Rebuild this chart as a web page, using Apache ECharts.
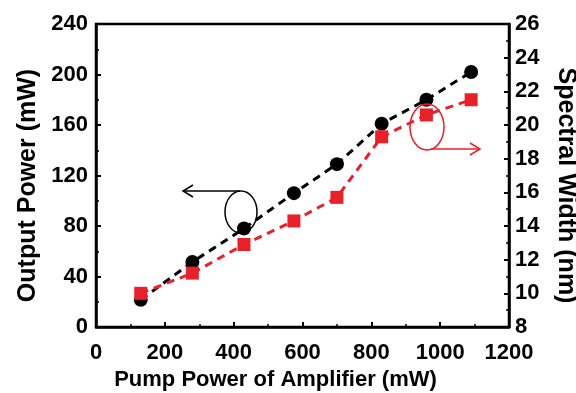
<!DOCTYPE html>
<html>
<head>
<meta charset="utf-8">
<script src="https://cdn.jsdelivr.net/npm/echarts@6/dist/echarts.min.js"></script>
<style>
  html, body { margin: 0; padding: 0; background: #fff; }
  #chart { width: 576px; height: 393px; }
</style>
</head>
<body>
<div id="chart"></div>
<script>
// pump power (mW)
const pumpPower = [130, 280, 430, 575, 700, 830, 960, 1090];
// output power (mW), left axis
const outputPower = [21.5, 51.5, 78, 106, 129, 161, 180, 202];
// spectral width (nm), right axis
const spectralWidth = [10, 11.2, 12.9, 14.3, 15.7, 19.3, 20.6, 21.5];

const FONT = "Liberation Sans";
const RED = "#e8202a";

const chart = echarts.init(document.getElementById("chart"), null, { renderer: "canvas" });

const axisCommon = {
  axisLine: { show: true, lineStyle: { color: "#000", width: 2.5 } },
  axisTick: { show: true, inside: true, length: 5, lineStyle: { color: "#000", width: 2 } },
  minorTick: { show: true, splitNumber: 2, length: 3, lineStyle: { color: "#000", width: 1.5 } },
  splitLine: { show: false },
  axisLabel: { color: "#000", fontFamily: FONT, fontWeight: "bold", fontSize: 22 },
  nameTextStyle: { color: "#000", fontFamily: FONT, fontWeight: "bold", fontSize: 25 },
};

chart.setOption({
  animation: false,
  grid: {
    left: 96, right: 67, top: 24, bottom: 66,
    outerBoundsMode: "none",
    containLabel: false,
    show: true, borderColor: "#000", borderWidth: 2.5,
  },
  xAxis: {
    ...axisCommon,
    type: "value",
    min: 0, max: 1200, interval: 200,
    name: "Pump Power of Amplifier (mW)",
    nameLocation: "middle",
    nameGap: 42,
    nameTextStyle: { ...axisCommon.nameTextStyle, fontSize: 22, padding: [0, 54, 0, 0] },
    axisLabel: { ...axisCommon.axisLabel, margin: 15, formatter: (v) => String(v) },
  },
  yAxis: [
    {
      ...axisCommon,
      type: "value",
      min: 0, max: 240, interval: 40,
      name: "Output Power (mW)",
      nameLocation: "middle",
      nameGap: 52,
      nameTextStyle: { ...axisCommon.nameTextStyle, padding: [0, 20, 0, 0] },
      axisLabel: { ...axisCommon.axisLabel, margin: 8 },
    },
    {
      ...axisCommon,
      type: "value",
      position: "right",
      min: 8, max: 26, interval: 2,
      name: "Spectral Width (nm)",
      nameLocation: "middle",
      nameGap: 44,
      nameRotate: -90,
      nameTextStyle: { ...axisCommon.nameTextStyle, padding: [0, 0, 0, 20] },
      axisLabel: { ...axisCommon.axisLabel, margin: 6 },
    },
  ],
  series: [
    {
      type: "line",
      yAxisIndex: 0,
      data: pumpPower.map((x, i) => [x, outputPower[i]]),
      symbol: "circle",
      symbolSize: 14,
      itemStyle: { color: "#000" },
      lineStyle: { color: "#000", width: 3, type: [8, 6] },
      z: 2,
    },
    {
      type: "line",
      yAxisIndex: 1,
      data: pumpPower.map((x, i) => [x, spectralWidth[i]]),
      symbol: "rect",
      symbolSize: 13,
      itemStyle: { color: RED },
      lineStyle: { color: RED, width: 3, type: [8, 6] },
      z: 3,
    },
  ],
  graphic: [
    // black ellipse + arrow to the left axis
    { type: "ellipse", shape: { cx: 241, cy: 212, rx: 16, ry: 21 },
      style: { fill: null, stroke: "#000", lineWidth: 1.5 }, z: 10 },
    { type: "line", shape: { x1: 240, y1: 191, x2: 183, y2: 191 },
      style: { stroke: "#000", lineWidth: 1.5 }, z: 10 },
    { type: "polyline", shape: { points: [[193, 185], [183, 191], [193, 197]] },
      style: { fill: null, stroke: "#000", lineWidth: 1.5 }, z: 10 },
    // red ellipse + arrow to the right axis
    { type: "ellipse", shape: { cx: 427, cy: 127, rx: 17, ry: 23 },
      style: { fill: null, stroke: RED, lineWidth: 1.5 }, z: 10 },
    { type: "line", shape: { x1: 431, y1: 149, x2: 480, y2: 149 },
      style: { stroke: RED, lineWidth: 1.5 }, z: 10 },
    { type: "polyline", shape: { points: [[470, 143], [480, 149], [470, 155]] },
      style: { fill: null, stroke: RED, lineWidth: 1.5 }, z: 10 },
  ],
});
</script>
</body>
</html>
